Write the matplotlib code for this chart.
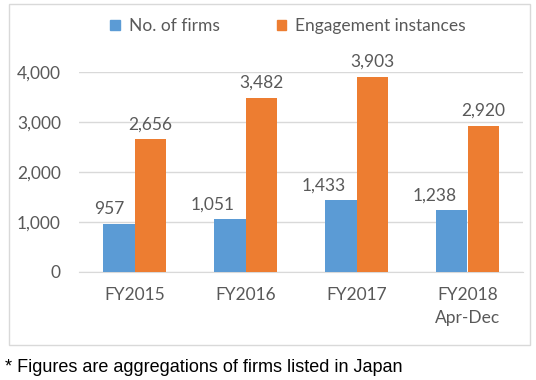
import matplotlib.pyplot as plt
from matplotlib.patches import Rectangle, Patch
import numpy as np

# =============================================================================
# DATA
# =============================================================================
categories = ["FY2015", "FY2016", "FY2017", "FY2018\nApr-Dec"]
firms = [957, 1051, 1433, 1238]
engagements = [2656, 3482, 3903, 2920]
series_names = ["No. of firms", "Engagement instances"]
yticks = [0, 1000, 2000, 3000, 4000]

BLUE = "#5B9BD5"
ORANGE = "#ED7D31"
GRID = "#D9D9D9"
TEXT = "#595959"
FS = 12.5

plt.rcParams['font.family'] = ['Lato', 'DejaVu Sans']

W, H = 536, 380
fig = plt.figure(figsize=(W / 100, H / 100), dpi=100)

# outer chart border (pixel coords -> figure fraction)
fig.patches.append(Rectangle((9 / W, 1 - 345 / H), (530 - 9) / W, (345 - 4) / H,
                             transform=fig.transFigure, fill=False, edgecolor=GRID, linewidth=1))

ax = fig.add_axes([79 / W, 1 - 272 / H, 444 / W, 200 / H])

x = np.arange(len(categories))
bw = 0.288
b1 = ax.bar(x - bw / 2, firms, bw, color=BLUE, zorder=3)
b2 = ax.bar(x + bw / 2, engagements, bw, color=ORANGE, zorder=3)

# blue labels sit a little to the left so they clear the orange bar
for rect in b1:
    ax.annotate(f"{int(rect.get_height()):,}",
                (rect.get_x() + rect.get_width() / 2, rect.get_height()),
                xytext=(4, 5), textcoords="offset points",
                ha="right", va="bottom", fontsize=FS, color=TEXT)
for rect in b2:
    ax.annotate(f"{int(rect.get_height()):,}",
                (rect.get_x() + rect.get_width() / 2, rect.get_height()),
                xytext=(0, 5), textcoords="offset points",
                ha="center", va="bottom", fontsize=FS, color=TEXT)

ax.set_xlim(-0.5, len(categories) - 0.5)
ax.set_ylim(0, 4000)
ax.set_yticks(yticks)
ax.set_yticklabels([f"{v:,}" for v in yticks])
ax.set_xticks(x)
ax.set_xticklabels(categories, linespacing=1.55)
ax.tick_params(axis="both", length=0, labelsize=FS, labelcolor=TEXT)
ax.tick_params(axis="y", pad=13)
ax.tick_params(axis="x", pad=11)
ax.yaxis.grid(True, color=GRID, linewidth=1, zorder=0)
for s in ("top", "right", "left"):
    ax.spines[s].set_visible(False)
ax.spines["bottom"].set_color(GRID)

handles = [Patch(color=BLUE), Patch(color=ORANGE)]
fig.legend(handles, series_names, loc="center", bbox_to_anchor=(288 / W, 1 - 26 / H),
           ncol=2, frameon=False, fontsize=FS, labelcolor=TEXT,
           handlelength=0.55, handleheight=0.55, handletextpad=0.5, columnspacing=3.3)

fig.text(5 / W, 1 - 367 / H, "* Figures are aggregations of firms listed in Japan",
         family="Liberation Sans", fontsize=13, color="black", va="center", ha="left")

fig.savefig("out.png", dpi=100)
